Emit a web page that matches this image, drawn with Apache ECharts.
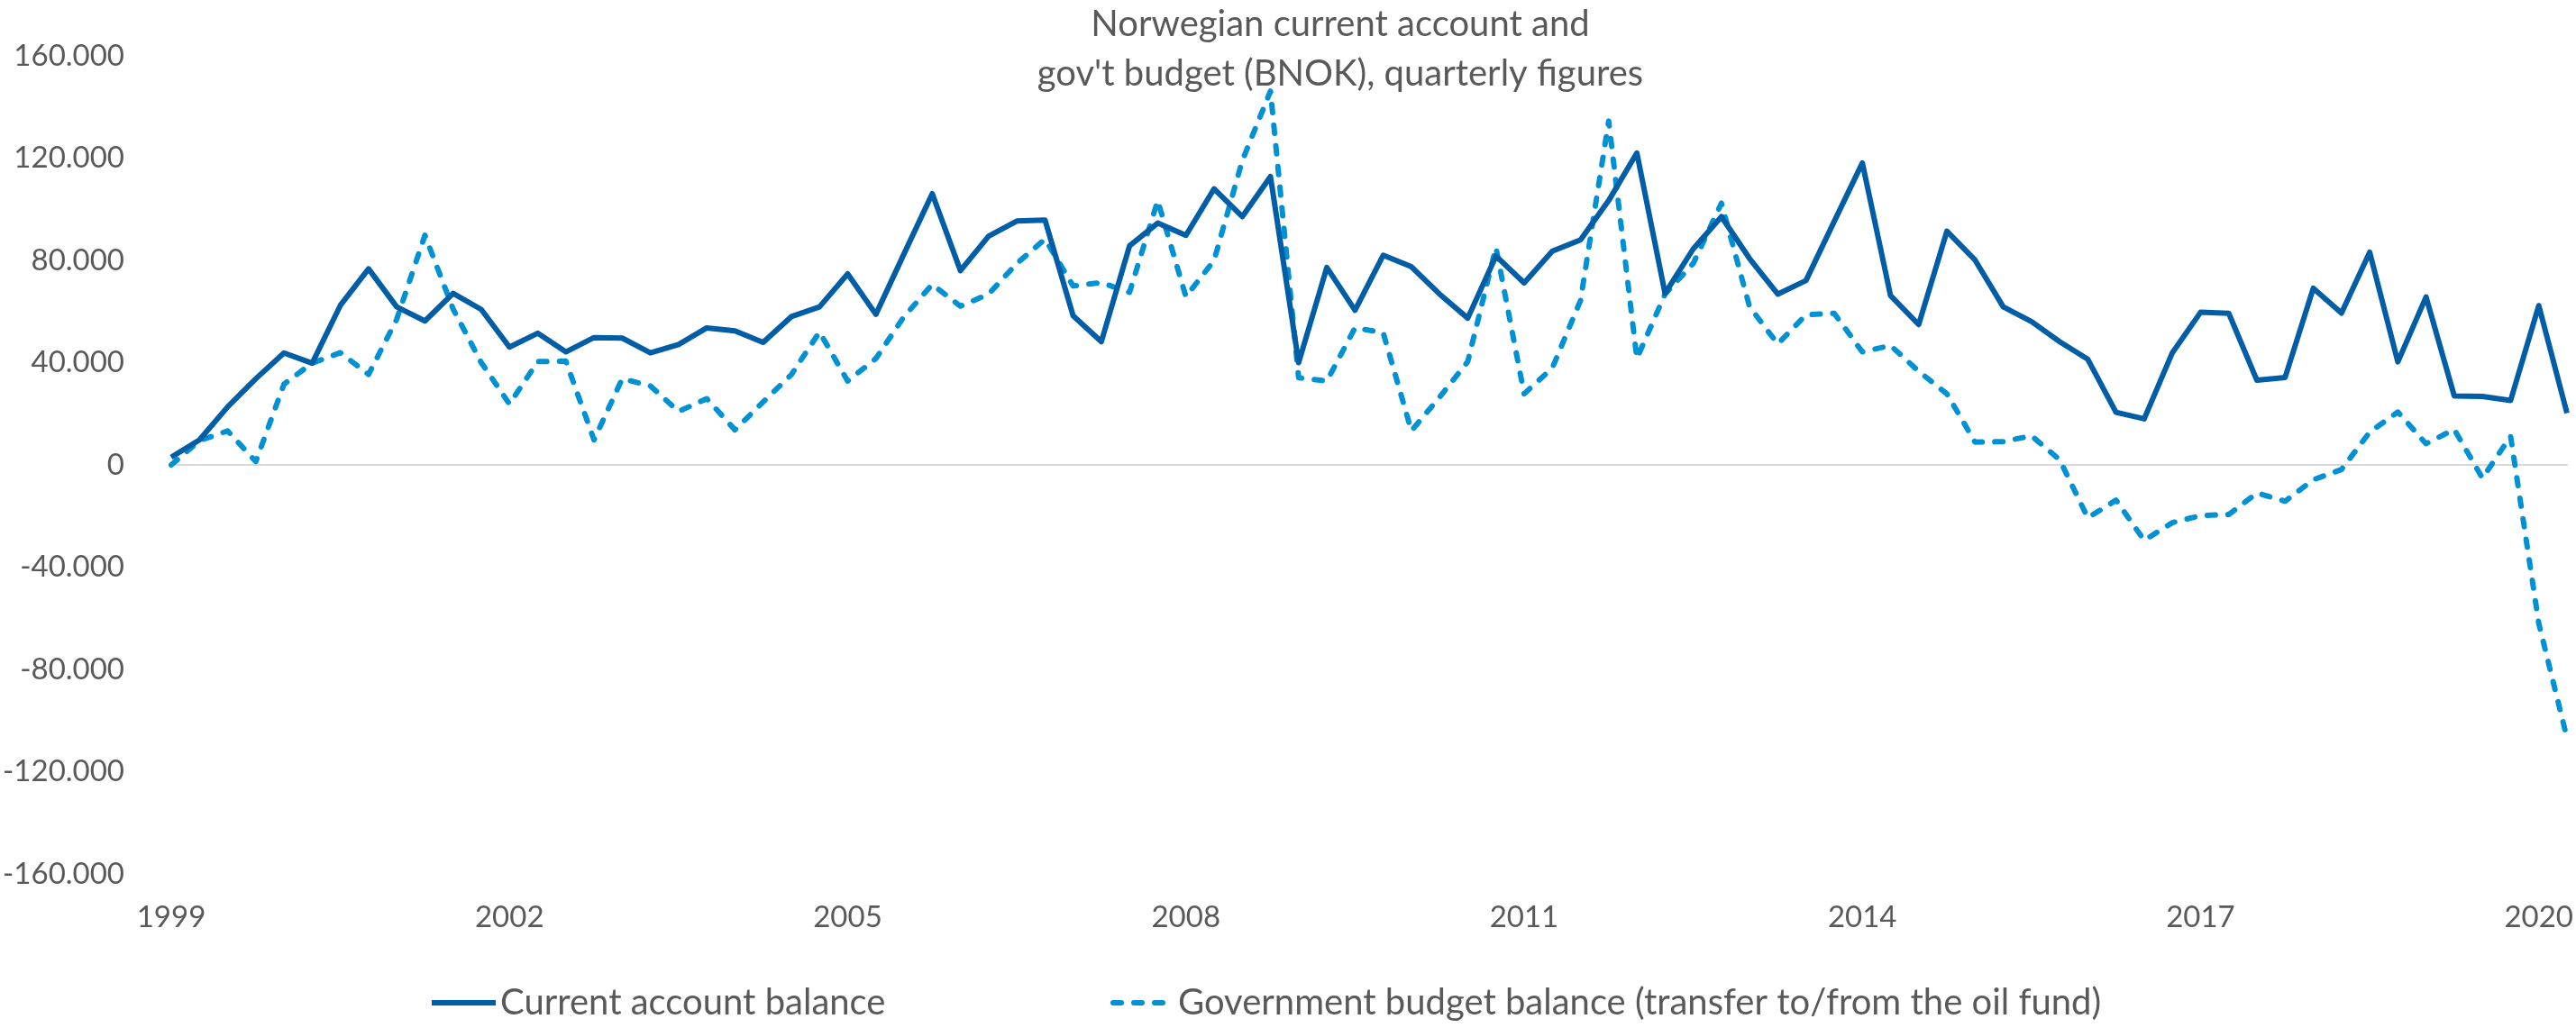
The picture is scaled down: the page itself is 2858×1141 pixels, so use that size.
<!DOCTYPE html>
<html>
<head>
<meta charset="utf-8">
<script src="https://cdn.jsdelivr.net/npm/echarts@6/dist/echarts.min.js"></script>
<style>
  html, body { margin: 0; padding: 0; background: #fff; }
  #chart { width: 2858px; height: 1141px; }
</style>
</head>
<body>
<div id="chart"></div>
<script>
// quarterly figures, million NOK, 1999Q1 .. 2020Q2
const years = [1999, 2000, 2001, 2002, 2003, 2004, 2005, 2006, 2007, 2008, 2009, 2010,
  2011, 2012, 2013, 2014, 2015, 2016, 2017, 2018, 2019, 2020];
const quarters = ["Q1", "Q2", "Q3", "Q4"];

const currentAccount = [
  3000, 9800, 22700, 33700, 43800, 39800, 62400, 76700, 61800, 56300, 67100, 60800,
  46100, 51500, 44200, 49800, 49600, 43800, 47100, 53600, 52400, 47900, 58000, 61800,
  74700, 58900, 82600, 106100, 76000, 89500, 95400, 95800, 58300, 48200, 85700, 94600,
  89800, 108000, 97100, 112800, 40000, 77200, 60500, 82000, 77500, 66800, 57400, 81700,
  71200, 83600, 88000, 103400, 122000, 67100, 84500, 97100, 80700, 66800, 72100, 95200,
  118100, 66200, 54900, 91400, 80100, 61800, 56100, 48200, 41300, 20600, 18000, 43900,
  59700, 59300, 33100, 34200, 69100, 59400, 83200, 40300, 65700, 27000, 26800, 25200,
  62300, 20300
];

const govBudget = [
  0, 9500, 13300, 1300, 31600, 39800, 43900, 35400, 57000, 89800, 61000, 40000,
  23800, 40400, 40600, 9800, 33700, 30900, 20900, 25900, 13700, 24600, 35300, 52000,
  32800, 41600, 58000, 70600, 62100, 66800, 78800, 88300, 70000, 71300, 67500, 103400,
  65800, 80000, 119000, 146200, 34100, 32800, 53600, 51700, 13300, 26500, 40400, 85100,
  27800, 37900, 64300, 134500, 41600, 66800, 78800, 102400, 61800, 47300, 58700, 59300,
  44200, 46700, 36600, 27800, 8900, 9100, 11400, 2000, -20700, -13800, -29500, -22600,
  -19800, -19400, -11000, -14200, -5800, -1800, 12800, 20700, 8300, 13900, -5200, 11200,
  -62000, -106800
];

const seriesNames = [
  "Current account balance",
  "Government budget balance (transfer to/from the oil fund)"
];

let categories = [];
years.forEach(y => {
  quarters.forEach(q => {
    if (categories.length < currentAccount.length) categories.push(y + q);
  });
});

const font = "Lato";
const textColor = "#595959";

// 160000 -> "160.000"
function fmt(v) {
  let s = String(Math.abs(v)).replace(/\B(?=(\d{3})+(?!\d))/g, ".");
  return (v < 0 ? "-" : "") + s;
}

let legendBase = {
  top: 1093,
  padding: 0,
  itemHeight: 40,
  lineStyle: { width: 6 },
  itemStyle: { opacity: 0 }, // hide the circle, keep the line
  textStyle: { fontFamily: font, fontSize: 40, color: textColor }
};

let option = {
  backgroundColor: "#fff",
  animation: false,
  title: {
    text: "Norwegian current account and\ngov't budget (BNOK), quarterly figures",
    left: 1487,
    top: 0,
    padding: 0,
    textAlign: "center",
    textStyle: {
      fontFamily: font,
      fontSize: 40,
      fontWeight: "normal",
      color: textColor,
      lineHeight: 55
    }
  },
  legend: [
    Object.assign({}, legendBase, {
      data: [seriesNames[0]],
      left: 476,
      itemWidth: 71
    }),
    Object.assign({}, legendBase, {
      data: [seriesNames[1]],
      left: 1232,
      itemWidth: 67
    })
  ],
  grid: {
    left: 190,
    right: 9,
    top: 62,
    bottom: 1141 - 970
  },
  xAxis: [
    {
      // zero line
      type: "category",
      data: categories,
      boundaryGap: false,
      axisLine: { onZero: true, lineStyle: { color: "#d9d9d9", width: 2 } },
      axisTick: { show: false },
      axisLabel: { show: false },
      splitLine: { show: false }
    },
    {
      type: "category",
      data: categories,
      position: "bottom",
      boundaryGap: false,
      axisLine: { show: false },
      axisTick: { show: false },
      splitLine: { show: false },
      axisLabel: {
        interval: 11,
        margin: 32,
        fontFamily: font,
        fontSize: 33,
        color: textColor,
        formatter: v => v.slice(0, 4)
      }
    }
  ],
  yAxis: {
    type: "value",
    min: -160000,
    max: 160000,
    interval: 40000,
    axisLine: { show: false },
    axisTick: { show: false },
    splitLine: { show: false },
    axisLabel: {
      margin: 52,
      fontFamily: font,
      fontSize: 33,
      color: textColor,
      formatter: fmt
    }
  },
  series: [
    {
      name: seriesNames[0],
      type: "line",
      xAxisIndex: 0,
      data: currentAccount,
      symbol: "none",
      color: "#005DA6",
      lineStyle: { color: "#005DA6", width: 6, join: "round" },
      z: 3
    },
    {
      name: seriesNames[1],
      type: "line",
      xAxisIndex: 0,
      data: govBudget,
      symbol: "none",
      color: "#0091D5",
      lineStyle: { color: "#0091D5", width: 6, type: [9, 14], cap: "round", join: "round" },
      z: 2
    }
  ]
};

let myChart = echarts.init(document.getElementById("chart"));
myChart.setOption(option);
window.addEventListener("resize", function() {
  myChart.resize();
});
</script>
</body>
</html>
